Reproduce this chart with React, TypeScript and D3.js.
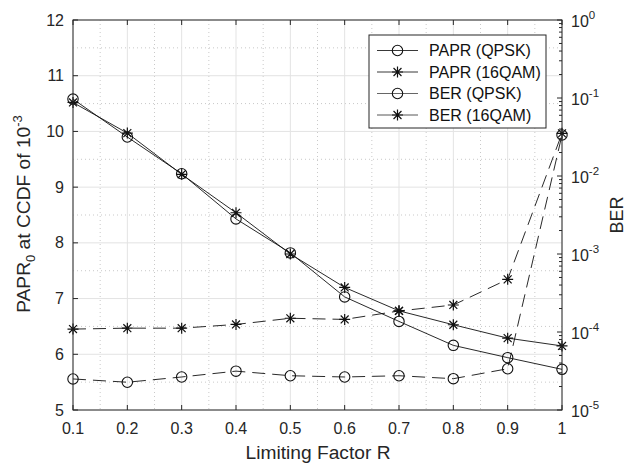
import React from "react";
import * as d3 from "d3";

const R_VALUES = [0.1, 0.2, 0.3, 0.4, 0.5, 0.6, 0.7, 0.8, 0.9, 1.0];
const PAPR_QPSK = [10.58, 9.9, 9.24, 8.43, 7.82, 7.03, 6.59, 6.16, 5.94, 5.73];
const PAPR_16QAM = [10.52, 9.97, 9.23, 8.54, 7.8, 7.2, 6.78, 6.53, 6.29, 6.15];
const BER_QPSK = [2.5e-5, 2.27e-5, 2.65e-5, 3.15e-5, 2.75e-5, 2.65e-5, 2.75e-5, 2.52e-5, 3.38e-5, 0.0336];
const BER_16QAM = [1.09e-4, 1.12e-4, 1.12e-4, 1.25e-4, 1.5e-4, 1.45e-4, 1.86e-4, 2.22e-4, 4.73e-4, 0.0352];

const X_TICKS = [0.1, 0.2, 0.3, 0.4, 0.5, 0.6, 0.7, 0.8, 0.9, 1.0];
const X_TICK_LABELS = ["0.1", "0.2", "0.3", "0.4", "0.5", "0.6", "0.7", "0.8", "0.9", "1"];
const YL_TICKS = [5, 6, 7, 8, 9, 10, 11, 12];
const YR_EXPONENTS = [-5, -4, -3, -2, -1, 0];

const LEGEND = [
  { label: "PAPR (QPSK)", marker: "o", color: "#222" },
  { label: "PAPR (16QAM)", marker: "*", color: "#222" },
  { label: "BER (QPSK)", marker: "o", color: "#555" },
  { label: "BER (16QAM)", marker: "*", color: "#444" },
];

const FONT = "'Liberation Sans', Arial, Helvetica, sans-serif";
const L = 73, Rt = 562, T = 20, B = 410;

function Marker({ type, x, y, color = "#111" }: { type: string; x: number; y: number; color?: string }) {
  if (type === "o") {
    return <circle cx={x} cy={y} r={5.2} fill="none" stroke={color} strokeWidth={1.1} />;
  }
  const r = 5.5;
  const d = r * 0.72;
  return (
    <path
      d={`M${x - r},${y}H${x + r}M${x},${y - r}V${y + r}M${x - d},${y - d}L${x + d},${y + d}M${x - d},${y + d}L${x + d},${y - d}`}
      stroke={color}
      strokeWidth={1.2}
      fill="none"
    />
  );
}

export default function App() {
  const x = d3.scaleLinear().domain([0.1, 1]).range([L, Rt]);
  const yL = d3.scaleLinear().domain([5, 12]).range([B, T]);
  const yR = d3.scaleLog().domain([1e-5, 1]).range([B, T]);

  const lineL = d3.line<number>().x((_, i) => x(R_VALUES[i])).y((v) => yL(v));
  const lineR = d3.line<number>().x((_, i) => x(R_VALUES[i])).y((v) => yR(v));

  const xMinor = d3.range(0.15, 1.0, 0.1);
  const yMinor = d3.range(5.5, 12, 1);
  const rMinor: number[] = [];
  for (let e = -5; e < 0; e++) for (let m = 2; m <= 9; m++) rMinor.push(m * Math.pow(10, e));

  return (
    <svg width={627} height={464} style={{ position: "absolute", left: 0, top: 0, background: "#fff" }} fontFamily={FONT}>
      <rect x={0} y={0} width={627} height={464} fill="#fff" />
      {/* minor grid */}
      {xMinor.map((v, i) => (
        <line key={"xm" + i} x1={x(v)} x2={x(v)} y1={T} y2={B} stroke="#bbb" strokeWidth={0.8} strokeDasharray="1,3" />
      ))}
      {yMinor.map((v, i) => (
        <line key={"ym" + i} x1={L} x2={Rt} y1={yL(v)} y2={yL(v)} stroke="#bbb" strokeWidth={0.8} strokeDasharray="1,3" />
      ))}
      {/* major grid */}
      {X_TICKS.map((v, i) => (
        <line key={"xg" + i} x1={x(v)} x2={x(v)} y1={T} y2={B} stroke="#e3e3e3" strokeWidth={1} />
      ))}
      {YL_TICKS.map((v, i) => (
        <line key={"yg" + i} x1={L} x2={Rt} y1={yL(v)} y2={yL(v)} stroke="#e3e3e3" strokeWidth={1} />
      ))}

      {/* series */}
      <path d={lineL(PAPR_QPSK) || ""} fill="none" stroke="#111" strokeWidth={0.9} />
      <path d={lineL(PAPR_16QAM) || ""} fill="none" stroke="#111" strokeWidth={0.9} />
      <path d={lineR(BER_QPSK) || ""} fill="none" stroke="#111" strokeWidth={0.9} strokeDasharray="13,7" />
      <path d={lineR(BER_16QAM) || ""} fill="none" stroke="#111" strokeWidth={0.9} strokeDasharray="13,7" />
      {PAPR_QPSK.map((v, i) => <Marker key={"pq" + i} type="o" x={x(R_VALUES[i])} y={yL(v)} />)}
      {PAPR_16QAM.map((v, i) => <Marker key={"p16" + i} type="*" x={x(R_VALUES[i])} y={yL(v)} />)}
      {BER_QPSK.map((v, i) => <Marker key={"bq" + i} type="o" x={x(R_VALUES[i])} y={yR(v)} />)}
      {BER_16QAM.map((v, i) => <Marker key={"b16" + i} type="*" x={x(R_VALUES[i])} y={yR(v)} />)}

      {/* axes box */}
      <rect x={L} y={T} width={Rt - L} height={B - T} fill="none" stroke="#262626" strokeWidth={1} />
      {X_TICKS.map((v, i) => (
        <g key={"xt" + i}>
          <line x1={x(v)} x2={x(v)} y1={B} y2={B - 5} stroke="#262626" />
          <line x1={x(v)} x2={x(v)} y1={T} y2={T + 5} stroke="#262626" />
          <text x={x(v)} y={434} fontSize={16} textAnchor="middle" fill="#262626">{X_TICK_LABELS[i]}</text>
        </g>
      ))}
      {YL_TICKS.map((v, i) => (
        <g key={"yt" + i}>
          <line x1={L} x2={L + 5} y1={yL(v)} y2={yL(v)} stroke="#262626" />
          <text x={64} y={yL(v) + 5.5} fontSize={16} textAnchor="end" fill="#262626">{v}</text>
        </g>
      ))}
      {YR_EXPONENTS.map((e, i) => (
        <g key={"yr" + i}>
          <line x1={Rt} x2={Rt - 5} y1={yR(Math.pow(10, e))} y2={yR(Math.pow(10, e))} stroke="#262626" />
          <text x={571} y={yR(Math.pow(10, e)) + 7} fontSize={16} fill="#262626">
            10
            <tspan fontSize={11.5} dy={-8}>{e}</tspan>
          </text>
        </g>
      ))}
      {rMinor.map((v, i) => (
        <line key={"rm" + i} x1={Rt} x2={Rt - 3} y1={yR(v)} y2={yR(v)} stroke="#262626" />
      ))}

      {/* axis labels */}
      <text x={318} y={459} fontSize={19.2} textAnchor="middle" fill="#262626">Limiting Factor R</text>
      <text transform="translate(30,214) rotate(-90)" fontSize={19.2} textAnchor="middle" fill="#262626">
        PAPR<tspan fontSize={13} dy={5}>0</tspan>
        <tspan dy={-5}> at CCDF of 10</tspan>
        <tspan fontSize={13} dy={-8}>-3</tspan>
      </text>
      <text transform="translate(623,215) rotate(-90)" fontSize={18} textAnchor="middle" fill="#262626">BER</text>

      {/* legend */}
      <rect x={369} y={35} width={177} height={93} fill="#fff" stroke="#262626" strokeWidth={1} />
      {LEGEND.map((item, i) => {
        const yy = 50.5 + i * 21.5;
        return (
          <g key={"lg" + i}>
            <line x1={377} x2={418} y1={yy} y2={yy} stroke={item.color} strokeWidth={0.9} />
            <Marker type={item.marker} x={397.5} y={yy} color="#111" />
            <text x={429} y={yy + 5.5} fontSize={16} fill="#111">{item.label}</text>
          </g>
        );
      })}
    </svg>
  );
}
